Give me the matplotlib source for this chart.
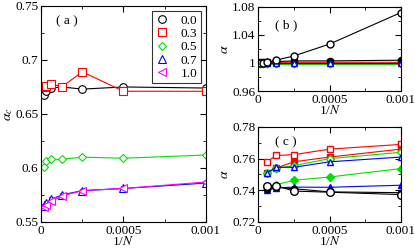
import numpy as np
import matplotlib
matplotlib.use("Agg")
import matplotlib.pyplot as plt
from matplotlib.lines import Line2D
from matplotlib.ticker import MultipleLocator

plt.rcParams['font.family'] = ['Liberation Serif', 'DejaVu Serif']
plt.rcParams['mathtext.fontset'] = 'stix'

# panel (a): critical alpha vs 1/N
inv_n_a = [0.0000156, 0.00003125, 0.0000625, 0.000125, 0.00025, 0.0005, 0.001]
labels_a = ["0.0", "0.3", "0.5", "0.7", "1.0"]
ac_00 = [0.668, 0.671, 0.674, 0.675, 0.673, 0.675, 0.674]
ac_03 = [0.675, 0.676, 0.678, 0.675, 0.689, 0.671, 0.671]
ac_05 = [0.601, 0.606, 0.608, 0.608, 0.610, 0.609, 0.612]
ac_07 = [0.565, 0.568, 0.571, 0.575, 0.579, 0.581, 0.586]
ac_10 = [0.564, 0.566, 0.569, 0.574, 0.579, 0.581, 0.587]
err_a = [0.0015, 0.0015, 0.0012, 0.001, 0.001, 0.001, 0.001]

# panel (b)
inv_n_b = [0.0000156, 0.00003125, 0.0000625, 0.000125, 0.00025, 0.0005, 0.001]
b_open_circ = [1.000, 1.000, 1.001, 1.004, 1.010, 1.027, 1.072]
b_fill_circ = [1.001, 1.001, 1.002, 1.002, 1.003, 1.003, 1.004]
b_red = [1.000, 1.000, 1.001, 1.001, 1.001, 1.001, 1.001]
b_green = [0.999, 0.999, 0.999, 0.999, 0.999, 0.999, 0.999]
b_blue = [1.000, 1.000, 1.000, 1.000, 1.000, 1.000, 1.000]

# panel (c)
inv_n_c = [0.0000625, 0.000125, 0.00025, 0.0005, 0.001]
c_red_open = [0.758, 0.762, 0.7625, 0.766, 0.769]
c_red_fill = [0.751, 0.754, 0.758, 0.761, 0.766]
c_green_open = [0.751, 0.754, 0.7555, 0.760, 0.764]
c_blue_open = [0.751, 0.7545, 0.7545, 0.758, 0.761]
c_green_fill = [0.742, 0.7435, 0.7463, 0.7484, 0.7537]
c_blue_fill = [0.740, 0.7415, 0.742, 0.7419, 0.7432]
c_black_open = [0.743, 0.743, 0.7395, 0.7388, 0.7373]
c_black_fill = [0.741, 0.742, 0.741, 0.739, 0.7385]


def style_axes(ax):
    ax.tick_params(direction='in', which='both', top=True, right=True,
                   labelsize=9.5, pad=2)
    ax.tick_params(which='major', length=4)
    ax.tick_params(which='minor', length=2)
    ax.set_xlim(0, 0.001)
    ax.set_xticks([0, 0.0005, 0.001])
    ax.set_xticklabels(["0", "0.0005", "0.001"])
    ax.xaxis.set_minor_locator(MultipleLocator(0.00025))
    ax.set_xlabel(r"1/$N$", fontsize=9.5, labelpad=-1)


fig = plt.figure(figsize=(4.15, 2.48), dpi=100)
ax_a = fig.add_axes([0.099, 0.105, 0.397, 0.871])
ax_b = fig.add_axes([0.622, 0.633, 0.344, 0.339])
ax_c = fig.add_axes([0.622, 0.105, 0.344, 0.383])

# (a)
series_a = [(ac_00, 'black', 'o'), (ac_03, 'red', 's'), (ac_05, '#00e000', 'D'),
            (ac_07, 'blue', '^'), (ac_10, 'magenta', '<')]
handles = []
for (vals, col, mk), lab in zip(series_a, labels_a):
    ms = 4.5 if mk == 'D' else 5.5
    ax_a.errorbar(inv_n_a, vals, yerr=err_a, xerr=0.000012, color=col, marker=mk,
                  mfc='white', mec=col, ms=ms, lw=0.8, mew=0.8,
                  elinewidth=0.6, capsize=1.5)
    handles.append(Line2D([], [], color=col, marker=mk, mfc='white', mec=col,
                          ms=ms, mew=0.8, ls='none', label=lab))
style_axes(ax_a)
ax_a.set_ylim(0.55, 0.75)
ax_a.set_yticks([0.55, 0.6, 0.65, 0.7, 0.75])
ax_a.set_yticklabels(["0.55", "0.6", "0.65", "0.7", "0.75"])
ax_a.yaxis.set_minor_locator(MultipleLocator(0.025))
ax_a.set_ylabel(r"$\alpha_c$", fontsize=10, labelpad=0)
ax_a.text(0.00009, 0.733, "( a )", fontsize=9.5)
leg = ax_a.legend(handles=handles, loc='upper right', fontsize=9.5, frameon=True,
                  fancybox=False, edgecolor='black', handlelength=1.0,
                  handletextpad=0.9, borderpad=0.25, labelspacing=0.08,
                  borderaxespad=0.4)
leg.get_frame().set_linewidth(0.8)

# (b)
ax_b.plot(inv_n_b, b_green, color='#00e000', marker='D', mfc='white', ms=3.5, lw=0.8)
ax_b.plot(inv_n_b, b_red, color='red', marker='s', mfc='red', ms=4, lw=0.8)
ax_b.plot(inv_n_b, b_fill_circ, color='black', marker='o', mfc='black', ms=4.5, lw=0.8)
ax_b.plot(inv_n_b, b_blue, color='blue', marker='^', mfc='white', ms=4.5, lw=0.8)
ax_b.plot(inv_n_b, b_open_circ, color='black', marker='o', mfc='white', ms=5, lw=0.8)
style_axes(ax_b)
ax_b.set_ylim(0.96, 1.08)
ax_b.set_yticks([0.96, 1.0, 1.04, 1.08])
ax_b.set_yticklabels(["0.96", "1", "1.04", "1.08"])
ax_b.yaxis.set_minor_locator(MultipleLocator(0.02))
ax_b.set_ylabel(r"$\alpha$", fontsize=10, labelpad=1)
ax_b.text(0.00012, 1.05, "( b )", fontsize=9.5)

# (c)
ax_c.plot(inv_n_c, c_red_open, color='red', marker='s', mfc='white', ms=5, lw=0.8)
ax_c.plot(inv_n_c, c_red_fill, color='red', marker='s', mfc='red', ms=4.5, lw=0.8)
ax_c.plot(inv_n_c, c_green_open, color='#00e000', marker='D', mfc='white', ms=4, lw=0.8)
ax_c.plot(inv_n_c, c_blue_open, color='blue', marker='^', mfc='white', ms=5, lw=0.8)
ax_c.plot(inv_n_c, c_green_fill, color='#00e000', marker='D', mfc='#00e000', ms=4, lw=0.8)
ax_c.plot(inv_n_c, c_blue_fill, color='blue', marker='^', mfc='blue', ms=5, lw=0.8)
ax_c.plot(inv_n_c, c_black_fill, color='black', marker='o', mfc='black', ms=4.5, lw=0.8)
ax_c.plot(inv_n_c, c_black_open, color='black', marker='o', mfc='white', ms=5.5, lw=0.8)
style_axes(ax_c)
ax_c.set_ylim(0.72, 0.78)
ax_c.set_yticks([0.72, 0.74, 0.76, 0.78])
ax_c.set_yticklabels(["0.72", "0.74", "0.76", "0.78"])
ax_c.yaxis.set_minor_locator(MultipleLocator(0.01))
ax_c.set_ylabel(r"$\alpha$", fontsize=10, labelpad=1)
ax_c.text(0.00012, 0.7685, "( c )", fontsize=9.5)

fig.savefig("out.png", dpi=100)
